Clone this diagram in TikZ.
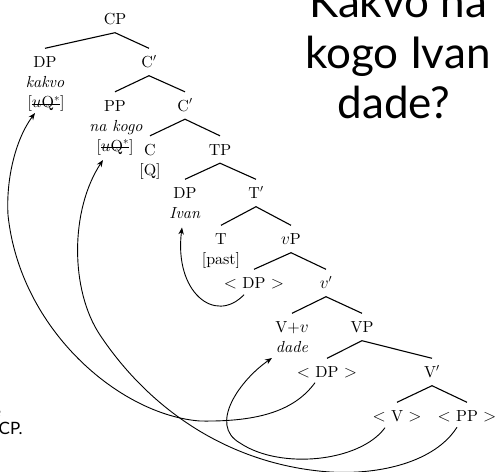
\documentclass[tikz,border=0pt]{standalone}
\usepackage{fontspec}
\setmainfont{lmroman10-regular.otf}[ItalicFont=lmroman10-italic.otf]
\newfontfamily\titlefont{Lato}
\usetikzlibrary{arrows.meta}
\newcommand\strk[1]{\setbox0\hbox{#1}\rlap{\rule[2.8pt]{\wd0}{1.1pt}}\box0}
\begin{document}
\begin{tikzpicture}[x=1pt,y=-1pt,
  lab/.style={font=\fontsize{16}{19}\selectfont, text height=11pt, text depth=0pt, inner ysep=8pt, inner xsep=2pt},
  sub/.style={font=\fontsize{16}{19}\selectfont, anchor=base, inner sep=0pt},
  br/.style={line width=1.1pt},
  mv/.style={line width=0.9pt, -{Stealth[length=7pt,width=5.5pt]}},
  ttl/.style={font=\titlefont\fontsize{44}{50}\selectfont, anchor=base, inner sep=0pt},
  side/.style={font=\titlefont\fontsize{17}{20}\selectfont, inner sep=0pt}
  ]
\useasboundingbox (0,0) rectangle (499,472);

% title
\node[ttl] (t1) at (398,17) {Kakvo na};
\node[ttl] (t2) at (398,68) {kogo Ivan};
\node[ttl] (t3) at (394,118) {dade?};
\node[side, anchor=base east] (frag) at (1.2,417) {e};
\node[side, anchor=base west] (cpdot) at (-1.5,434) {CP.};

% tree
\node[lab] (CP) at (115,19) {CP};
\node[lab] (DPa) at (45,62) {DP};
\node[sub] (kakvo) at (45,87.5) {\textit{kakvo}};
\node[sub] (fa) at (46,107.5) {[\strk{$u$Q$^*$}]};
\node[lab] (Ca) at (149,62) {C$'$};
\node[lab] (PP) at (115,105.5) {PP};
\node[sub] (nakogo) at (116,131) {\textit{na kogo}};
\node[sub] (fb) at (115,151) {[\strk{$u$Q$^*$}]};
\node[lab] (Cb) at (185,105.5) {C$'$};
\node[lab] (C) at (150,149.5) {C};
\node[sub] (Q) at (150,175) {[Q]};
\node[lab] (TP) at (220,149.5) {TP};
\node[lab] (DPi) at (185,193) {DP};
\node[sub] (ivan) at (185,218.5) {\textit{Ivan}};
\node[lab] (Tb) at (256,193) {T$'$};
\node[lab] (T) at (221,239) {T};
\node[sub] (past) at (221,264.5) {[past]};
\node[lab] (vP) at (291,239) {$v$P};
\node[lab] (DPv) at (254,283) {$<$ DP $>$};
\node[lab] (vb) at (326,283) {$v'$};
\node[lab] (Vv) at (292,327) {V+$v$};
\node[sub] (dade) at (292,352.5) {\textit{dade}};
\node[lab] (VP) at (362,327) {VP};
\node[lab] (DPV) at (327,372) {$<$ DP $>$};
\node[lab] (Vb) at (432,372) {V$'$};
\node[lab] (Vt) at (397,416) {$<$ V $>$};
\node[lab] (PPt) at (467,416) {$<$ PP $>$};

\draw[br] (CP.south) -- (DPa.north) (CP.south) -- (Ca.north);
\draw[br] (Ca.south) -- (PP.north) (Ca.south) -- (Cb.north);
\draw[br] (Cb.south) -- (C.north) (Cb.south) -- (TP.north);
\draw[br] (TP.south) -- (DPi.north) (TP.south) -- (Tb.north);
\draw[br] (Tb.south) -- (T.north) (Tb.south) -- (vP.north);
\draw[br] (vP.south) -- (DPv.north) (vP.south) -- (vb.north);
\draw[br] (vb.south) -- (Vv.north) (vb.south) -- (VP.north);
\draw[br] (VP.south) -- (DPV.north) (VP.south) -- (Vb.north);
\draw[br] (Vb.south) -- (Vt.north) (Vb.south) -- (PPt.north);

% movement arrows
\draw[mv] ([xshift=-10pt,yshift=2pt]DPv.south) .. controls (215,325) and (174,292) .. ([xshift=-3pt,yshift=-9pt]ivan.base);
\draw[mv] ([xshift=-12pt,yshift=2pt]Vt.south) .. controls (360,462) and (280,470) .. (240,443)
  .. controls (208,425) and (240,380) .. ([xshift=-20pt,yshift=-5.5pt]dade.base);
\draw[mv] ([xshift=-12pt,yshift=3pt]DPV.south) .. controls (295,410) and (260,422) .. (200,421)
  .. controls (120,415) and (20,330) .. (8,215)
  .. controls (6,180) and (15,140) .. ([xshift=-11pt,yshift=-5.5pt]fa.base);
\draw[mv] ([xshift=-10pt,yshift=2.5pt]PPt.south) .. controls (435,462) and (380,475) .. (330,472)
  .. controls (230,465) and (150,410) .. (100,335)
  .. controls (70,290) and (70,210) .. ([xshift=-12pt,yshift=-9pt]fb.base);
\end{tikzpicture}
\end{document}
